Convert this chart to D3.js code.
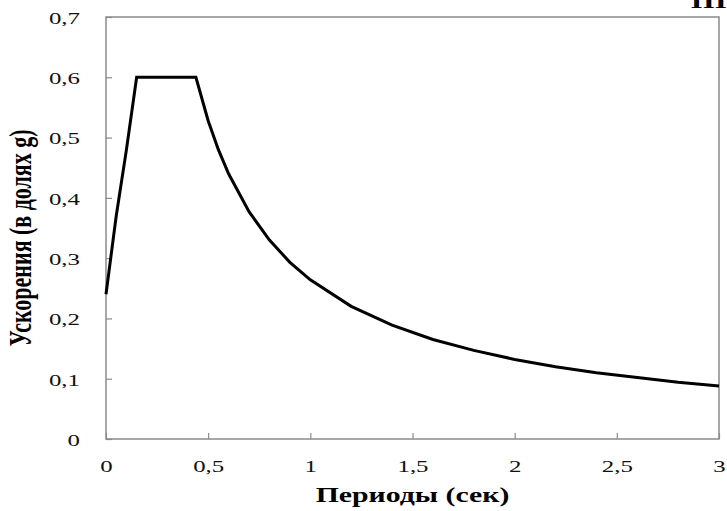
<!DOCTYPE html>
<html><head><meta charset="utf-8">
<script src="https://cdn.jsdelivr.net/npm/d3@7"></script>
<style>body{margin:0;background:#fff}svg{display:block}</style>
</head><body>
<script>
const periods = [0, 0.05, 0.1, 0.15, 0.44, 0.5, 0.55, 0.6, 0.7, 0.8, 0.9, 1.0, 1.2, 1.4, 1.6, 1.8, 2.0, 2.2, 2.4, 2.6, 2.8, 3.0];
const accel   = [0.24, 0.37, 0.48, 0.6, 0.6, 0.528, 0.48, 0.44, 0.377, 0.33, 0.293, 0.264, 0.22, 0.189, 0.165, 0.147, 0.132, 0.12, 0.11, 0.102, 0.094, 0.088];
const xTicks = [0, 0.5, 1, 1.5, 2, 2.5, 3];
const yTicks = [0, 0.1, 0.2, 0.3, 0.4, 0.5, 0.6, 0.7];
const xTitle = "Периоды (сек)";
const yTitle = "Ускорения (в долях g)";

const W = 727, H = 511;
const SX = 1.42; // horizontal stretch of the reference lettering
const m = {left: 106, right: 8, top: 17, bottom: 72};
const svg = d3.select("body").append("svg").attr("width", W).attr("height", H);
const x = d3.scaleLinear().domain([0, 3]).range([m.left, W - m.right]);
const y = d3.scaleLinear().domain([0, 0.7]).range([H - m.bottom, m.top]);
const fmt = d => String(d).replace(".", ",");
const font = "'Liberation Serif','Times New Roman',serif";

// frame
svg.append("rect").attr("x", x(0)).attr("y", y(0.7)).attr("width", x(3) - x(0)).attr("height", y(0) - y(0.7))
  .attr("fill", "none").attr("stroke", "#8a8a8a").attr("stroke-width", 1.5);

const xa = svg.append("g").attr("transform", `translate(0,${y(0)})`)
  .call(d3.axisBottom(x).tickValues(xTicks).tickSizeInner(-6).tickSizeOuter(0).tickPadding(21).tickFormat(fmt));
const ya = svg.append("g").attr("transform", `translate(${x(0)},0)`)
  .call(d3.axisLeft(y).tickValues(yTicks).tickSizeInner(-6).tickSizeOuter(0).tickPadding(26).tickFormat(fmt));
[xa, ya].forEach(g => {
  g.select(".domain").remove();
  g.selectAll("line").attr("stroke", "#8a8a8a").attr("stroke-width", 1.2);
  g.selectAll("text").attr("font-family", font).attr("font-size", 17.5).attr("fill", "#111")
    .attr("transform", `scale(${SX},1)`);
});
ya.selectAll("text").attr("x", -26 / SX).attr("dy", "0.36em");

svg.append("path").datum(periods.map((p, i) => [p, accel[i]]))
  .attr("d", d3.line().x(d => x(d[0])).y(d => y(d[1])))
  .attr("fill", "none").attr("stroke", "#000").attr("stroke-width", 3).attr("stroke-linejoin", "miter");

svg.append("text").attr("transform", `translate(${(x(0) + x(3)) / 2},502) scale(${SX},1)`).attr("text-anchor", "middle")
  .attr("font-family", font).attr("font-weight", "bold").attr("font-size", 21).text(xTitle);
svg.append("text").attr("transform", `translate(31,${(y(0) + y(0.7)) / 2 + 10}) scale(${SX},1) rotate(-90)`).attr("text-anchor", "middle")
  .attr("font-family", font).attr("font-weight", "bold").attr("font-size", 22).text(yTitle);
svg.append("text").attr("transform", `translate(727,8) scale(${SX},1)`).attr("text-anchor", "end")
  .attr("font-family", font).attr("font-weight", "bold").attr("font-size", 22).text("III");
</script>
</body></html>
